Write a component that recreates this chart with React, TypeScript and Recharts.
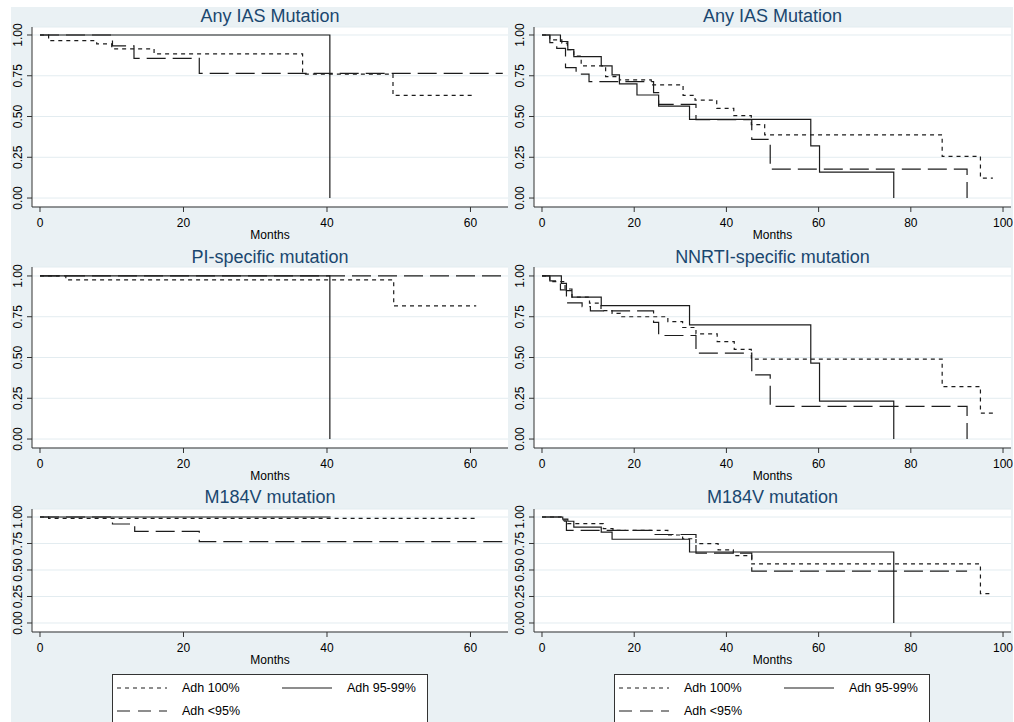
import React from 'react';
import { LineChart, Line, XAxis, YAxis, CartesianGrid } from 'recharts';

type Pt = { t: number; s: number };

const leftMonthTicks = [0, 20, 40, 60];
const rightMonthTicks = [0, 20, 40, 60, 80, 100];
const survivalTicks = [0, 0.25, 0.5, 0.75, 1];
const groupLabels = ['Adh 100%', 'Adh 95-99%', 'Adh <95%'];
const panelTitles = ['Any IAS Mutation', 'Any IAS Mutation', 'PI-specific mutation', 'NNRTI-specific mutation', 'M184V mutation', 'M184V mutation'];

// left column
const iasL100: Pt[] = [
  { t: 0, s: 1 }, { t: 1.2, s: 0.965 }, { t: 7.9, s: 0.945 }, { t: 10, s: 0.915 }, { t: 15.9, s: 0.884 },
  { t: 36.6, s: 0.76 }, { t: 49.2, s: 0.63 }, { t: 60.5, s: 0.63 },
];
const iasL9599: Pt[] = [{ t: 0, s: 1 }, { t: 40.4, s: 0 }];
const iasLlt95: Pt[] = [
  { t: 0, s: 1 }, { t: 10.1, s: 0.933 }, { t: 13.1, s: 0.857 }, { t: 22.2, s: 0.765 }, { t: 64.5, s: 0.765 },
];

const piL100: Pt[] = [{ t: 0, s: 1 }, { t: 3.6, s: 0.976 }, { t: 49.3, s: 0.816 }, { t: 60.8, s: 0.816 }];
const piL9599: Pt[] = [{ t: 0, s: 1 }, { t: 40.4, s: 0 }];
const piLlt95: Pt[] = [{ t: 0, s: 1 }, { t: 64.5, s: 1 }];

const m184L100: Pt[] = [{ t: 0, s: 1 }, { t: 1.2, s: 0.987 }, { t: 60.8, s: 0.987 }];
const m184L9599: Pt[] = [{ t: 0, s: 1 }, { t: 40.5, s: 1 }];
const m184Llt95: Pt[] = [
  { t: 0, s: 1 }, { t: 10.1, s: 0.934 }, { t: 13.2, s: 0.865 }, { t: 22.2, s: 0.767 }, { t: 64.5, s: 0.767 },
];

// right column
const iasR100: Pt[] = [
  { t: 0, s: 1 }, { t: 1.7, s: 0.97 }, { t: 4.3, s: 0.95 }, { t: 5.5, s: 0.91 }, { t: 6.9, s: 0.87 },
  { t: 8.5, s: 0.81 }, { t: 13.8, s: 0.745 }, { t: 16.8, s: 0.725 }, { t: 23.7, s: 0.694 }, { t: 30.6, s: 0.63 },
  { t: 33.2, s: 0.6 }, { t: 37.9, s: 0.55 }, { t: 41.6, s: 0.505 }, { t: 45.4, s: 0.45 }, { t: 48.3, s: 0.387 },
  { t: 86.8, s: 0.255 }, { t: 95.1, s: 0.122 }, { t: 97.8, s: 0.122 },
];
const iasR9599: Pt[] = [
  { t: 0, s: 1 }, { t: 4.0, s: 0.96 }, { t: 5.6, s: 0.91 }, { t: 6.9, s: 0.867 }, { t: 12.85, s: 0.81 },
  { t: 15.2, s: 0.755 }, { t: 16.8, s: 0.7 }, { t: 20.6, s: 0.632 }, { t: 25.3, s: 0.564 }, { t: 32.0, s: 0.483 },
  { t: 58.3, s: 0.32 }, { t: 60.2, s: 0.159 }, { t: 76.3, s: 0 },
];
const iasRlt95: Pt[] = [
  { t: 0, s: 1 }, { t: 1.7, s: 0.953 }, { t: 3.2, s: 0.918 }, { t: 5.1, s: 0.8 }, { t: 7.4, s: 0.76 },
  { t: 10.2, s: 0.714 }, { t: 24.2, s: 0.646 }, { t: 25.3, s: 0.575 }, { t: 33.4, s: 0.48 }, { t: 45.5, s: 0.36 },
  { t: 49.5, s: 0.177 }, { t: 92.2, s: 0 },
];

const nnrtiR100: Pt[] = [
  { t: 0, s: 1 }, { t: 1.7, s: 0.965 }, { t: 5.0, s: 0.92 }, { t: 6.5, s: 0.87 }, { t: 10.3, s: 0.833 },
  { t: 12.8, s: 0.788 }, { t: 15.2, s: 0.77 }, { t: 17.0, s: 0.75 }, { t: 27.3, s: 0.72 }, { t: 30.5, s: 0.684 },
  { t: 33.4, s: 0.645 }, { t: 38.0, s: 0.597 }, { t: 41.7, s: 0.55 }, { t: 45.4, s: 0.49 }, { t: 86.8, s: 0.322 },
  { t: 95.1, s: 0.159 }, { t: 97.8, s: 0.159 },
];
const nnrtiR9599: Pt[] = [
  { t: 0, s: 1 }, { t: 4.2, s: 0.955 }, { t: 5.3, s: 0.91 }, { t: 6.5, s: 0.87 }, { t: 12.85, s: 0.818 },
  { t: 32.0, s: 0.7 }, { t: 58.3, s: 0.465 }, { t: 60.2, s: 0.233 }, { t: 76.3, s: 0 },
];
const nnrtiRlt95: Pt[] = [
  { t: 0, s: 1 }, { t: 1.7, s: 0.97 }, { t: 4.0, s: 0.915 }, { t: 5.3, s: 0.835 }, { t: 8.7, s: 0.812 },
  { t: 10.5, s: 0.786 }, { t: 24.2, s: 0.716 }, { t: 25.3, s: 0.635 }, { t: 33.4, s: 0.527 }, { t: 45.5, s: 0.394 },
  { t: 49.5, s: 0.2 }, { t: 92.2, s: 0 },
];

const m184R100: Pt[] = [
  { t: 0, s: 1 }, { t: 4.5, s: 0.97 }, { t: 5.5, s: 0.937 }, { t: 13.3, s: 0.89 }, { t: 15.4, s: 0.874 },
  { t: 27.3, s: 0.83 }, { t: 30.5, s: 0.795 }, { t: 33.4, s: 0.748 }, { t: 38.2, s: 0.69 }, { t: 41.5, s: 0.635 },
  { t: 45.5, s: 0.557 }, { t: 95.1, s: 0.277 }, { t: 97.8, s: 0.277 },
];
const m184R9599: Pt[] = [
  { t: 0, s: 1 }, { t: 4.5, s: 0.98 }, { t: 5.6, s: 0.96 }, { t: 6.9, s: 0.905 }, { t: 12.85, s: 0.858 },
  { t: 15.2, s: 0.79 }, { t: 32.0, s: 0.67 }, { t: 76.3, s: 0 },
];
const m184Rlt95: Pt[] = [
  { t: 0, s: 1 }, { t: 4.0, s: 0.96 }, { t: 5.3, s: 0.874 }, { t: 24.2, s: 0.835 }, { t: 33.4, s: 0.66 },
  { t: 45.5, s: 0.49 }, { t: 92.2, s: 0.49 },
];

const FONT = '"Liberation Sans", Arial, Helvetica, sans-serif';
const BG = '#eaf1f4';
const GRID = '#e3ecf0';
const INK = '#1c1c1c';
const TITLE = '#1a476f';
const dashes = ['4 4', undefined, '19 7'];
const legendDashes = ['4 4', undefined, '13 8'];

const YW = 32;
const XH = 40;
const MT = 15; // room above the plot for the rotated 1.00 label
const MR = 12; // room right of the plot for the last x label

const columns = [
  { plotLeft: 32, plotW: 476, xDomain: [-1.115, 65.23], ticks: leftMonthTicks },
  { plotLeft: 534, plotW: 477, xDomain: [-1.735, 101.73], ticks: rightMonthTicks },
];
const rows = [
  { plotTop: 27, plotH: 180, yDomain: [-0.055, 1.049], titleBase: 22 },
  { plotTop: 267, plotH: 181, yDomain: [-0.055, 1.055], titleBase: 263 },
  { plotTop: 509, plotH: 123, yDomain: [-0.085, 1.0755], titleBase: 503 },
];

const panelSeries: Pt[][][] = [
  [iasL100, iasL9599, iasLlt95],
  [iasR100, iasR9599, iasRlt95],
  [piL100, piL9599, piLlt95],
  [nnrtiR100, nnrtiR9599, nnrtiRlt95],
  [m184L100, m184L9599, m184Llt95],
  [m184R100, m184R9599, m184Rlt95],
];

const YTick = (props: any) => {
  const { x, y, payload } = props;
  return (
    <text x={x} y={y} transform={`rotate(-90 ${x} ${y})`} textAnchor="middle" fontSize={12} fill="#000" fontFamily={FONT}>
      {Number(payload.value).toFixed(2)}
    </text>
  );
};

function Panel({ idx }: { idx: number }) {
  const col = columns[idx % 2];
  const row = rows[Math.floor(idx / 2)];
  const series = panelSeries[idx];
  return (
    <div style={{ position: 'absolute', left: col.plotLeft - YW, top: row.plotTop - MT }}>
      <LineChart width={col.plotW + YW + MR} height={row.plotH + XH + MT} margin={{ top: MT, right: MR, bottom: 0, left: 0 }}>
        <CartesianGrid vertical={false} fill="#fff" stroke={GRID} strokeWidth={1} />
        <XAxis
          type="number"
          dataKey="t"
          domain={col.xDomain}
          ticks={col.ticks}
          allowDataOverflow
          interval={0}
          height={XH}
          tickSize={5}
          tickMargin={6}
          stroke="#333"
          tick={{ fill: '#000', fontSize: 12, fontFamily: FONT }}
          label={{ value: 'Months', position: 'insideBottom', offset: XH - 32, fill: '#000', fontSize: 12, fontFamily: FONT }}
        />
        <YAxis
          type="number"
          dataKey="s"
          domain={row.yDomain}
          ticks={survivalTicks}
          allowDataOverflow
          interval={0}
          width={YW}
          tickSize={5}
          tickMargin={5}
          stroke="#333"
          tick={<YTick />}
        />
        {series.map((pts, i) => (
          <Line
            key={groupLabels[i]}
            data={pts}
            dataKey="s"
            name={groupLabels[i]}
            type="stepAfter"
            stroke={INK}
            strokeWidth={1.2}
            strokeDasharray={dashes[i]}
            dot={false}
            activeDot={false}
            isAnimationActive={false}
          />
        ))}
      </LineChart>
    </div>
  );
}

function LegendBox({ x }: { x: number }) {
  const items = [
    { i: 0, sx: x + 5, lx: x + 70, y: 688 },
    { i: 1, sx: x + 170, lx: x + 235, y: 688 },
    { i: 2, sx: x + 5, lx: x + 70, y: 711 },
  ];
  return (
    <g>
      <rect x={x + 0.5} y={674.5} width={315} height={70} fill="#fff" stroke="#333" strokeWidth={1} />
      {items.map((it) => (
        <g key={it.i}>
          <line x1={it.sx} x2={it.sx + 50} y1={it.y} y2={it.y} stroke={INK} strokeWidth={1.2} strokeDasharray={legendDashes[it.i]} />
          <text x={it.lx} y={it.y + 4} fontSize={12.5} fill="#000" fontFamily={FONT}>
            {groupLabels[it.i]}
          </text>
        </g>
      ))}
    </g>
  );
}

export default function App() {
  return (
    <div style={{ position: 'absolute', left: 0, top: 0, width: 1014, height: 722, background: '#fff', overflow: 'hidden', fontFamily: FONT }}>
      <div style={{ position: 'absolute', left: 11, top: 7, width: 1002, height: 715, background: BG }} />
      {panelTitles.map((_, idx) => (
        <Panel key={idx} idx={idx} />
      ))}
      <svg width={1014} height={722} style={{ position: 'absolute', left: 0, top: 0, pointerEvents: 'none' }}>
        {panelTitles.map((title, idx) => {
          const col = columns[idx % 2];
          const row = rows[Math.floor(idx / 2)];
          return (
            <text key={idx} x={col.plotLeft + col.plotW / 2} y={row.titleBase} textAnchor="middle" fontSize={18} fill={TITLE} fontFamily={FONT}>
              {title}
            </text>
          );
        })}
        <LegendBox x={112} />
        <LegendBox x={614} />
      </svg>
    </div>
  );
}
